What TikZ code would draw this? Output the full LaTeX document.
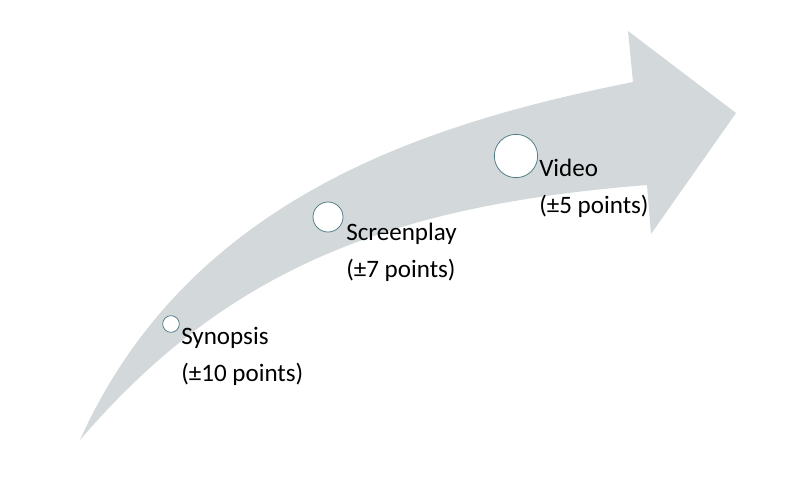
\documentclass[tikz,border=0pt]{standalone}
\usepackage{fontspec}
\setmainfont{Carlito}
\usetikzlibrary{positioning}
\definecolor{band}{HTML}{D3D8DA}
\definecolor{ring}{HTML}{55808A}

\begin{document}
\begin{tikzpicture}[x=0.75pt, y=-0.75pt,
  stage/.style={circle, draw=ring, fill=white, line width=0.6pt, inner sep=0pt},
  lbl/.style={anchor=base west, align=left, inner sep=0pt, font=\fontsize{18.8}{27.5}\selectfont}]
  \useasboundingbox (0,0) rectangle (800,476);
  % curved arrow
  \fill[band] (80,440) .. controls (190,195) and (433,122) .. (633,82)
    -- (628,31) -- (736,113) -- (651,234) -- (647,185)
    .. controls (397,205) and (230,265) .. (80,440) -- cycle;
  % milestones
  \node[stage, minimum size=12.5pt] (synopsis) at (171,324) {};
  \node[stage, minimum size=22.5pt] (screenplay) at (328,217) {};
  \node[stage, minimum size=32.5pt] (video) at (516,156) {};
  % labels (base = last line)
  \node[lbl] (synopsis-text) at (181,381) {Synopsis\\(±10 points)};
  \node[lbl] (screenplay-text) at (346,277) {Screenplay\\(±7 points)};
  \node[lbl] (video-text) at (539,213) {Video\\(±5 points)};
\end{tikzpicture}
\end{document}
